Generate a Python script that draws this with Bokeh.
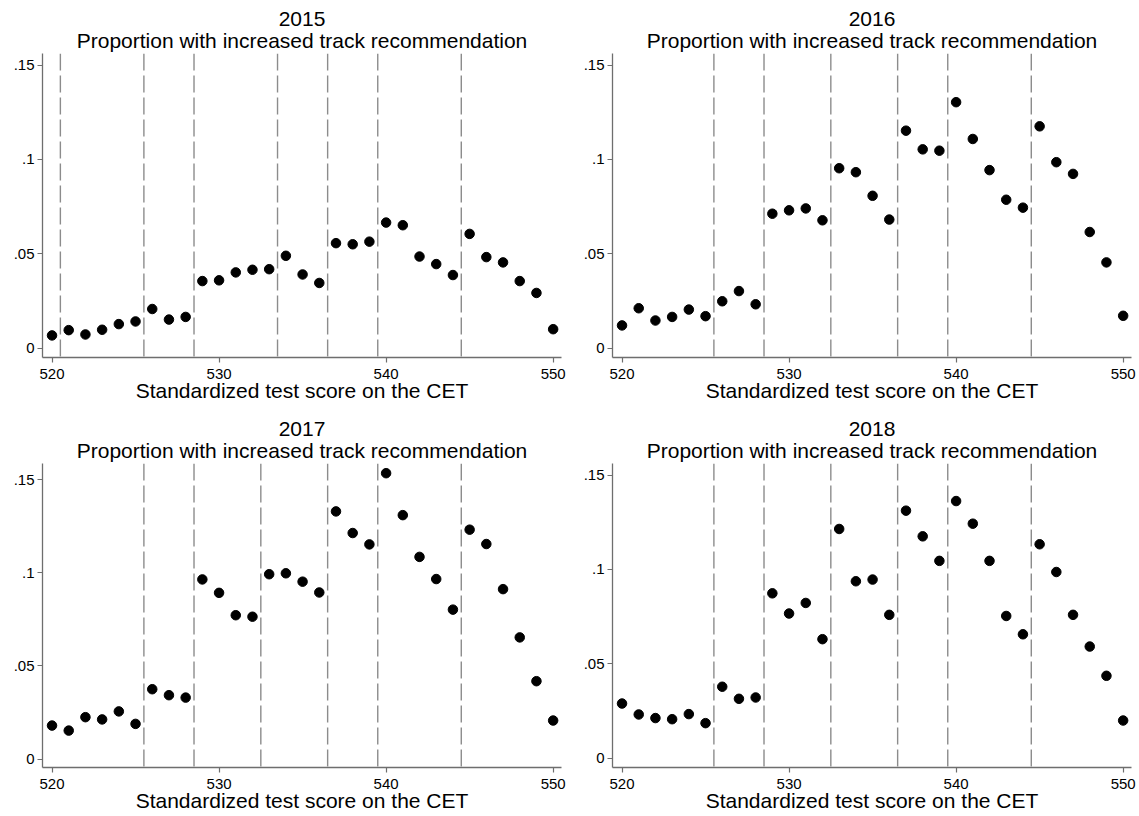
from bokeh.plotting import figure
from bokeh.models import (Title, Span, FixedTicker, CustomJSTickFormatter, Range1d,
                          ColumnDataSource)
from bokeh.layouts import column, row
from bokeh.embed import file_html
from bokeh.resources import INLINE

# ---------------- data ----------------
scores = list(range(520, 551))

prop_2015 = [0.0067, 0.0095, 0.0072, 0.0097, 0.0127, 0.0141, 0.0207, 0.0151, 0.0165,
             0.0355, 0.0359, 0.0401, 0.0415, 0.0418, 0.0489, 0.0390, 0.0345,
             0.0556, 0.0550, 0.0564, 0.0665, 0.0651, 0.0485, 0.0445, 0.0387,
             0.0605, 0.0482, 0.0454, 0.0355, 0.0292, 0.0100]
prop_2016 = [0.0120, 0.0211, 0.0146, 0.0165, 0.0204, 0.0169, 0.0248, 0.0302, 0.0232,
             0.0712, 0.0730, 0.0740, 0.0677, 0.0953, 0.0932, 0.0807, 0.0681,
             0.1152, 0.1053, 0.1046, 0.1303, 0.1108, 0.0943, 0.0786, 0.0744,
             0.1175, 0.0985, 0.0923, 0.0615, 0.0454, 0.0171]
prop_2017 = [0.0180, 0.0153, 0.0225, 0.0213, 0.0256, 0.0189, 0.0375, 0.0343, 0.0330,
             0.0964, 0.0892, 0.0772, 0.0764, 0.0992, 0.0997, 0.0952, 0.0894,
             0.1329, 0.1213, 0.1152, 0.1534, 0.1309, 0.1085, 0.0966, 0.0802,
             0.1231, 0.1154, 0.0912, 0.0653, 0.0418, 0.0207]
prop_2018 = [0.0289, 0.0231, 0.0212, 0.0206, 0.0233, 0.0185, 0.0378, 0.0314, 0.0321,
             0.0873, 0.0766, 0.0822, 0.0630, 0.1214, 0.0937, 0.0946, 0.0759,
             0.1311, 0.1175, 0.1045, 0.1362, 0.1242, 0.1045, 0.0753, 0.0656,
             0.1133, 0.0986, 0.0759, 0.0591, 0.0436, 0.0199]

cutoffs_2015 = [520.5, 525.5, 528.5, 533.5, 536.5, 539.5, 544.5]
cutoffs_2016 = [525.5, 528.5, 532.5, 536.5, 539.5, 544.5]
cutoffs_2017 = [525.5, 528.5, 532.5, 536.5, 539.5, 544.5]
cutoffs_2018 = [525.5, 528.5, 532.5, 536.5, 539.5, 544.5]

years = ["2015", "2016", "2017", "2018"]
x_ticks = [520, 530, 540, 550]
y_ticks = [0, 0.05, 0.1, 0.15]
subtitle = "Proportion with increased track recommendation"
x_label = "Standardized test score on the CET"

FONT = "Liberation Sans"
AXIS_COLOR = "#6e6e6e"


def make_panel(year, values, cutoffs, width, height, ymin, ymax, bottom_border):
    p = figure(width=width, height=height, output_backend="svg", toolbar_location=None,
               x_range=Range1d(519.43, 550.5), y_range=Range1d(ymin, ymax),
               title=year, min_border_left=42, min_border_right=width - 42 - 519,
               min_border_top=53, min_border_bottom=bottom_border)
    # figure title (year) sits outermost; added Title (subtitle) sits next to frame
    p.title.text_font = FONT
    p.title.text_font_size = "21px"
    p.title.text_font_style = "normal"
    p.title.align = "center"
    p.title.text_color = "#000000"
    p.title.standoff = 0
    p.add_layout(Title(text=subtitle, text_font=FONT, text_font_size="21px",
                       text_font_style="normal", align="center", text_color="#000000",
                       standoff=3), "above")

    p.outline_line_color = None
    p.xgrid.grid_line_color = None
    p.ygrid.grid_line_color = None
    p.background_fill_color = "white"
    p.border_fill_color = "white"

    for c in cutoffs:
        p.add_layout(Span(location=c, dimension="height", line_color="#8c8c8c",
                          line_width=1.4, line_dash="17 5"))

    src = ColumnDataSource(dict(x=scores, y=values))
    p.scatter("x", "y", source=src, size=9.5, fill_color="black", line_color="black")

    for ax in (p.xaxis[0], p.yaxis[0]):
        ax.axis_line_color = AXIS_COLOR
        ax.axis_line_width = 1.3
        ax.major_tick_line_color = AXIS_COLOR
        ax.major_tick_line_width = 1.2
        ax.major_tick_out = 5
        ax.major_tick_in = 0
        ax.minor_tick_line_color = None
        ax.major_label_text_font = FONT
        ax.major_label_text_font_size = "15px"
        ax.major_label_text_color = "#000000"

    p.xaxis.ticker = FixedTicker(ticks=x_ticks)
    p.xaxis.major_label_standoff = 6
    p.xaxis.axis_label = x_label
    p.xaxis.axis_label_text_font = FONT
    p.xaxis.axis_label_text_font_size = "21px"
    p.xaxis.axis_label_text_font_style = "normal"
    p.xaxis.axis_label_text_color = "#000000"
    p.xaxis.axis_label_standoff = -3

    p.yaxis.ticker = FixedTicker(ticks=y_ticks)
    p.yaxis.major_label_standoff = 3
    p.yaxis.major_label_orientation = "horizontal"
    p.yaxis.formatter = CustomJSTickFormatter(code="""
        if (Math.abs(tick) < 1e-9) { return "0"; }
        let s = tick.toFixed(2);
        s = s.replace(/^0/, "").replace(/0+$/, "");
        return s;
    """)
    return p


p1 = make_panel(years[0], prop_2015, cutoffs_2015, 570, 410, -0.005, 0.1561, 53)
p2 = make_panel(years[1], prop_2016, cutoffs_2016, 569, 410, -0.005, 0.1561, 53)
p3 = make_panel(years[2], prop_2017, cutoffs_2017, 570, 406, -0.0045, 0.1586, 49)
p4 = make_panel(years[3], prop_2018, cutoffs_2018, 569, 406, -0.005, 0.1561, 49)

layout = column(row(p1, p2), row(p3, p4))

open("out.html", "w").write(file_html(layout, INLINE))
